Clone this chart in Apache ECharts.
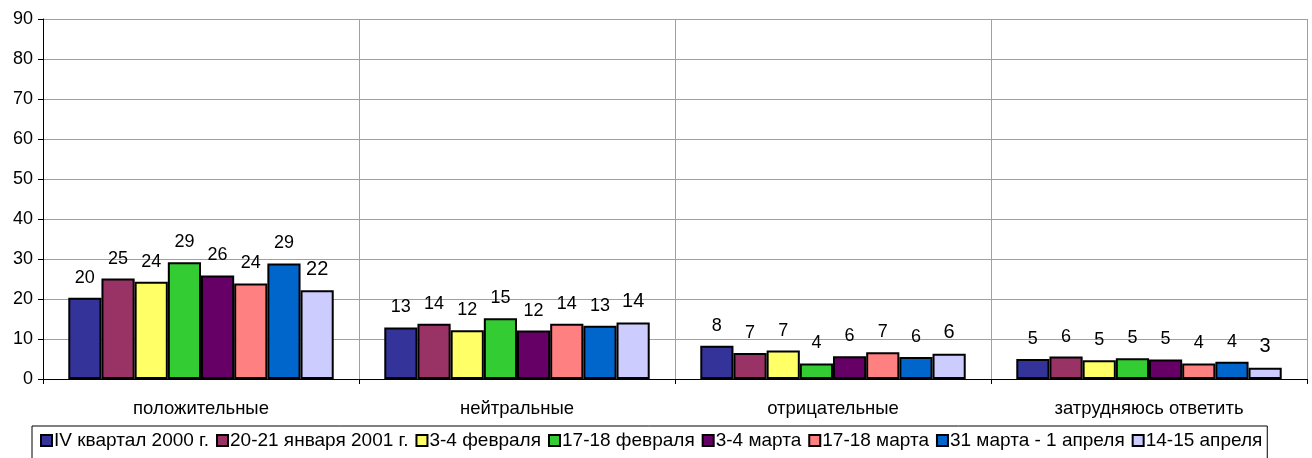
<!DOCTYPE html>
<html>
<head>
<meta charset="utf-8">
<script src="https://cdn.jsdelivr.net/npm/echarts@6/dist/echarts.min.js"></script>
<style>
  html, body { margin: 0; padding: 0; background: #fff; }
  #chart { width: 1312px; height: 458px; }
</style>
</head>
<body>
<div id="chart"></div>
<script>
// categories (answer groups)
var categories = ['положительные', 'нейтральные', 'отрицательные', 'затрудняюсь ответить'];

// survey waves
var waves = ['IV квартал 2000 г.', '20-21 января 2001 г.', '3-4 февраля', '17-18 февраля',
             '3-4 марта', '17-18 марта', '31 марта - 1 апреля', '14-15 апреля'];

// values per wave (labels are rounded)
var q4_2000   = [20.3, 12.9, 8.3, 5.0];
var jan20_21  = [25.1, 13.8, 6.5, 5.6];
var feb3_4    = [24.3, 12.2, 7.1, 4.7];
var feb17_18  = [29.2, 15.2, 3.9, 5.2];
var mar3_4    = [25.9, 12.1, 5.7, 4.9];
var mar17_18  = [23.9, 13.8, 6.7, 3.9];
var mar31_apr1 = [28.9, 13.3, 5.5, 4.3];
var apr14_15  = [22.2, 14.1, 6.3, 2.8];

var seriesData = [q4_2000, jan20_21, feb3_4, feb17_18, mar3_4, mar17_18, mar31_apr1, apr14_15];
var colors = ['#333399', '#993366', '#ffff66', '#33cc33', '#660066', '#ff8080', '#0066cc', '#ccccff'];

var yTicks = [0, 10, 20, 30, 40, 50, 60, 70, 80, 90];

var myChart = echarts.init(document.getElementById('chart'));

var series = waves.map(function (name, i) {
    return {
        name: name,
        type: 'bar',
        data: seriesData[i],
        barGap: '0%',
        barCategoryGap: '16%',
        itemStyle: { color: colors[i], borderColor: '#000', borderWidth: 2 },
        label: {
            show: true,
            position: 'top',
            distance: 11,
            color: '#000',
            fontFamily: 'Liberation Sans',
            fontSize: i === 7 ? 20 : 18,
            formatter: function (p) { return Math.round(p.value); }
        }
    };
});

var option = {
    animation: false,
    textStyle: { fontFamily: 'Liberation Sans' },
    grid: { left: 43, right: 5, top: 19, bottom: 79 },
    legend: {
        data: waves,
        top: 426,
        left: 32,
        padding: [5, 5, 20, 8],
        borderColor: '#000',
        borderWidth: 1,
        itemGap: 7,
        itemWidth: 11,
        itemHeight: 11,
        icon: 'rect',
        textStyle: { fontSize: 19, color: '#000', padding: [0, 0, 0, -3] }
    },
    xAxis: {
        type: 'category',
        data: categories,
        axisLine: { lineStyle: { color: '#000', width: 1 } },
        axisTick: { show: true, length: 5, lineStyle: { color: '#000' } },
        axisLabel: { color: '#000', fontSize: 18.5, margin: 20 },
        splitLine: { show: true, lineStyle: { color: '#a0a0a0' } }
    },
    yAxis: {
        type: 'value',
        min: yTicks[0],
        max: yTicks[yTicks.length - 1],
        interval: 10,
        axisLine: { show: true, lineStyle: { color: '#000' } },
        axisTick: { show: true, length: 5, lineStyle: { color: '#000' } },
        axisLabel: { color: '#000', fontSize: 18, margin: 10 },
        splitLine: { show: true, lineStyle: { color: '#a0a0a0' } }
    },
    series: series
};

myChart.setOption(option);
</script>
</body>
</html>
